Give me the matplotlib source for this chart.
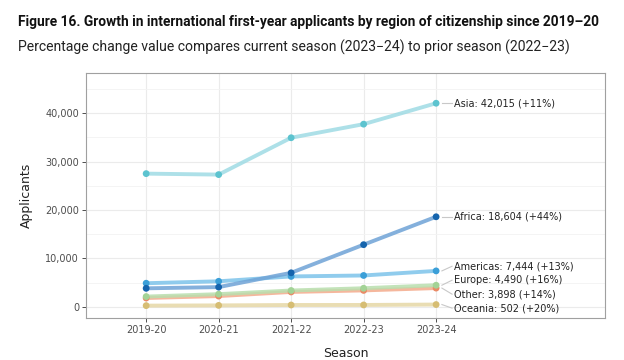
import matplotlib
matplotlib.use("Agg")
import matplotlib.pyplot as plt
from matplotlib.ticker import MultipleLocator, FuncFormatter

seasons = ["2019-20", "2020-21", "2021-22", "2022-23", "2023-24"]
regions = ["Asia", "Africa", "Americas", "Europe", "Other", "Oceania"]
asia = [27500, 27300, 34900, 37700, 42015]
africa = [3850, 4100, 7050, 12850, 18604]
americas = [4900, 5300, 6300, 6500, 7444]
europe = [2150, 2650, 3400, 3870, 4490]
other = [1850, 2250, 3100, 3420, 3898]
oceania = [280, 330, 410, 420, 502]
pct_change = [11, 44, 13, 16, 14, 20]

series = [asia, africa, americas, europe, other, oceania]
line_colors = ["#9fdbe4", "#6fa3d6", "#7dc3ea", "#b9dfae", "#f4ab8c", "#e6d7a6"]
marker_colors = ["#5cc3cf", "#1564ad", "#3b9fd8", "#a3d396", "#ea8a66", "#d6bd73"]

fig = plt.figure(figsize=(6.24, 3.6), dpi=100)
fig.text(18/624, 1-22/360, "Figure 16. Growth in international first-year applicants by region of citizenship since 2019\u201320",
         fontfamily="Roboto", fontweight="bold", fontsize=9.9, va="center", ha="left", color="#111111")
fig.text(18/624, 1-47/360, "Percentage change value compares current season (2023\u221224) to prior season (2022\u221223)",
         fontfamily="Roboto", fontsize=10.1, va="center", ha="left", color="#222222")

ax = fig.add_axes([86/624, 1-318/360, (605-86)/624, (318-73)/360])
x = list(range(len(seasons)))
order = sorted(range(len(regions)), key=lambda i: series[i][-1])
for i in reversed(range(len(regions))):
    ax.plot(x, series[i], color=line_colors[i], lw=2.8, alpha=0.85, zorder=3, solid_capstyle="round")
    ax.scatter(x, series[i], s=24, color=marker_colors[i], zorder=4, edgecolors="none")

# simple label repel: spread overlapping labels around cluster mean
gap = 2880
vals = [series[i][-1] for i in order]
clusters = [[k] for k in range(len(vals))]
changed = True
pos = list(vals)
while changed:
    changed = False
    new = []
    for c in clusters:
        if new:
            prev = new[-1]
            pm = sum(vals[j] for j in prev) / len(prev)
            ptop = pm + (len(prev) - 1) / 2 * gap
            cm = sum(vals[j] for j in c) / len(c)
            cbot = cm - (len(c) - 1) / 2 * gap
            if cbot - ptop < gap:
                new[-1] = prev + c
                changed = True
                continue
        new.append(c)
    clusters = new
for c in clusters:
    m = sum(vals[j] for j in c) / len(c)
    for r, j in enumerate(c):
        pos[j] = m + (r - (len(c) - 1) / 2) * gap

for k, i in enumerate(order):
    v = series[i][-1]
    ly = pos[k]
    ax.plot([4.08, 4.22], [v, ly], color="#c8c8c8", lw=0.8, zorder=2)
    ax.text(4.25, ly, f"{regions[i]}: {v:,} (+{pct_change[i]}%)", fontsize=7, va="center", ha="left",
            color="#222222", fontfamily="DejaVu Sans")

ax.set_xlim(-0.83, 6.33)
ax.set_ylim(-2270, 48250)
ax.set_xticks(x)
ax.set_xticklabels(seasons)
ax.yaxis.set_major_locator(MultipleLocator(10000))
ax.yaxis.set_minor_locator(MultipleLocator(5000))
ax.yaxis.set_major_formatter(FuncFormatter(lambda v, p: f"{int(v):,}"))
ax.grid(which="major", color="#ebebeb", lw=0.8, zorder=0)
ax.grid(which="minor", axis="y", color="#f3f3f3", lw=0.6, zorder=0)
ax.tick_params(axis="both", which="major", labelsize=7, colors="#4d4d4d", length=3, width=0.7, pad=2)
ax.tick_params(axis="y", which="minor", length=0)
for s in ax.spines.values():
    s.set_color("#a0a0a0")
    s.set_linewidth(0.8)
ax.set_xlabel("Season", fontsize=9, color="#222222", labelpad=9)
ax.set_ylabel("Applicants", fontsize=9, color="#222222", labelpad=9)
ax.set_axisbelow(True)

fig.savefig("out.png", dpi=100)
